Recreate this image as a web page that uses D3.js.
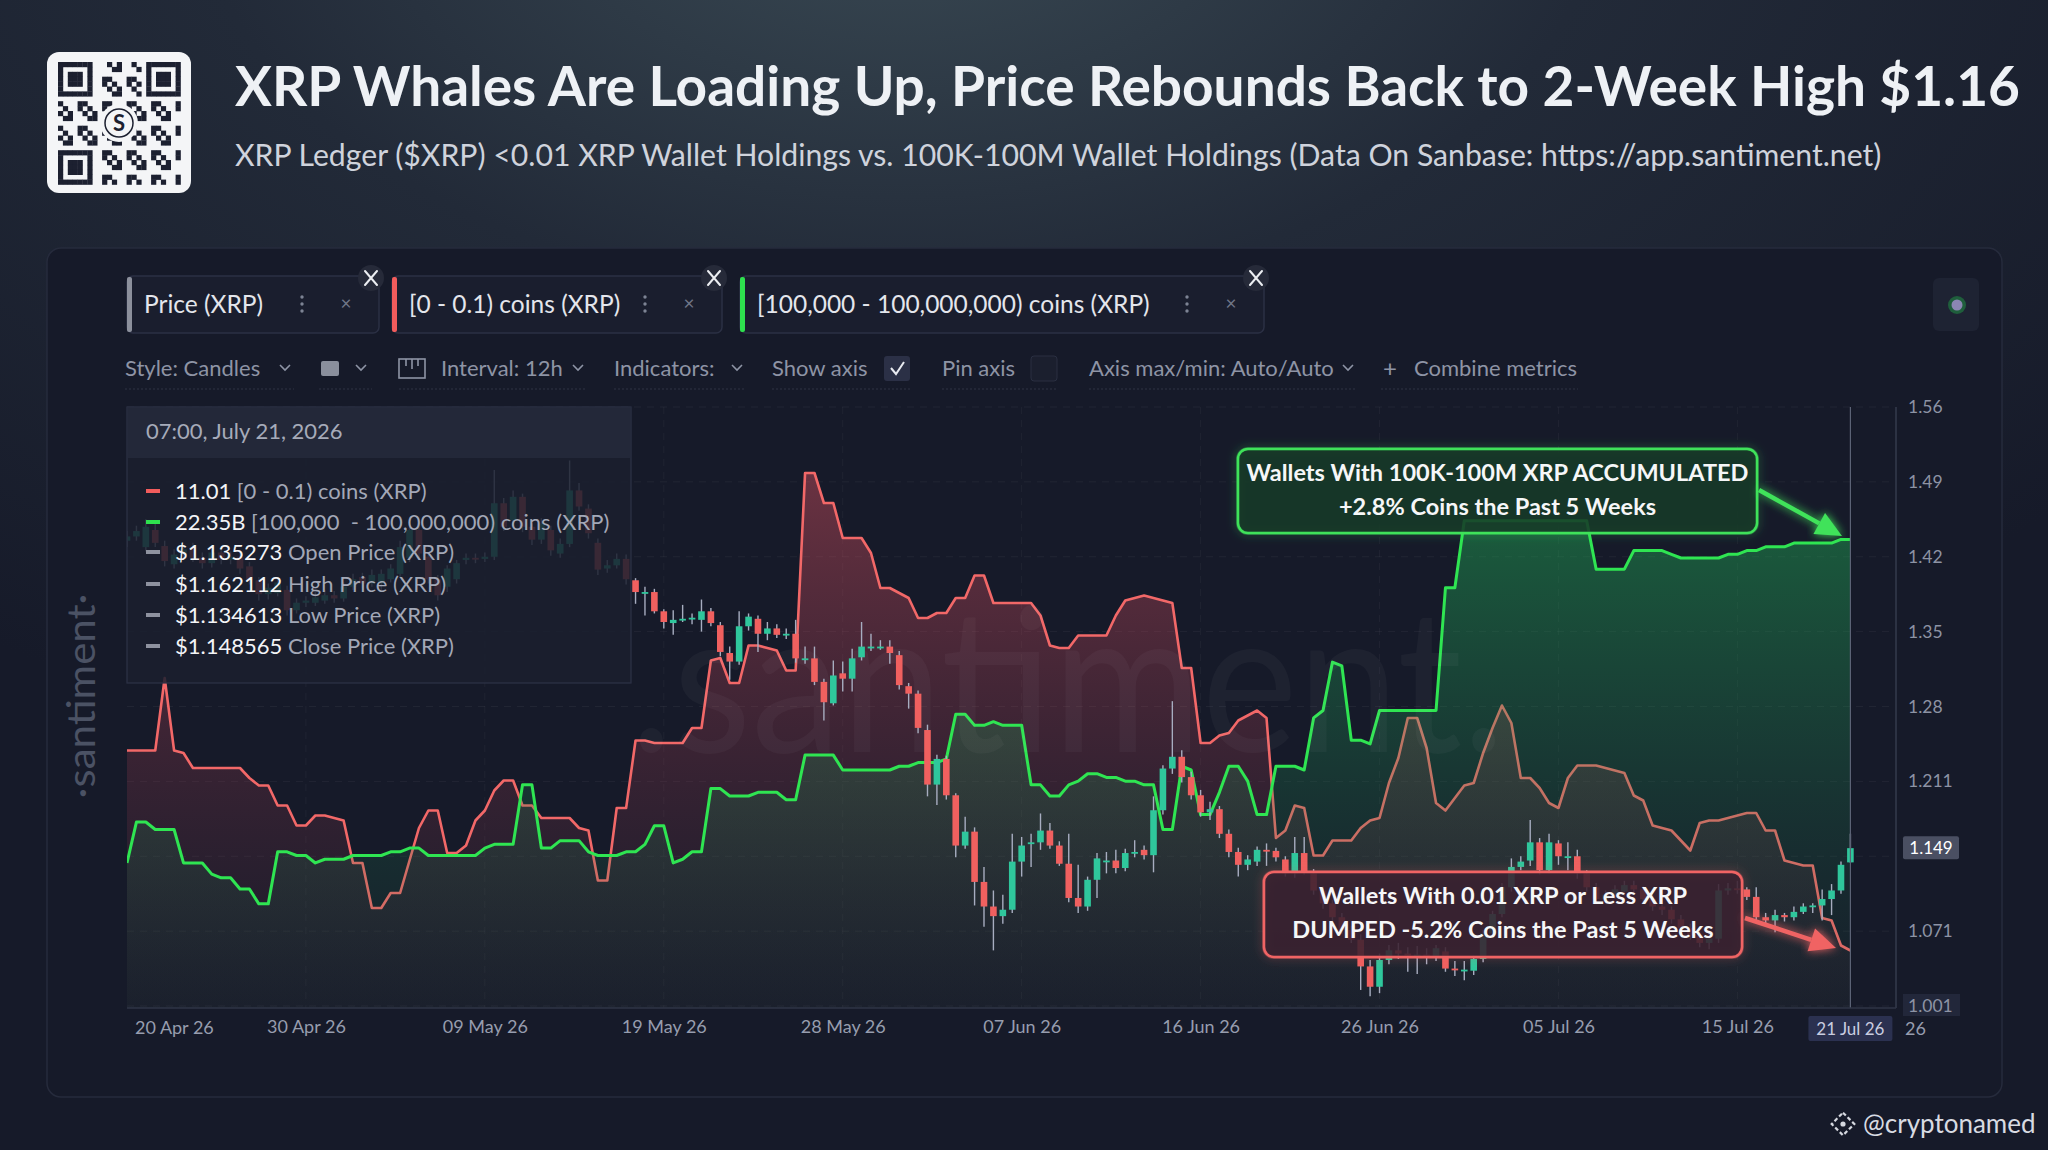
<!DOCTYPE html>
<html>
<head>
<meta charset="utf-8">
<script src="https://cdn.jsdelivr.net/npm/d3@7"></script>
<style>
  html, body { margin: 0; padding: 0; background: #161a29; }
  svg { display: block; }
  text { font-family: Lato, "Open Sans", sans-serif; }
</style>
</head>
<body>
<script>
// ---- data (12h candles, first one 20 Apr 2026 19:00) ----
const firstCandle = "2026-04-20T19:00";

// [open, high, low, close] Price (XRP)
const priceOHLC = [
  [1.436,1.445,1.430,1.440],[1.440,1.450,1.436,1.445],[1.430,1.456,1.426,1.449],[1.446,1.452,1.430,1.434],[1.431,1.436,1.412,1.417],[1.414,1.428,1.410,1.423],[1.423,1.432,1.418,1.428],[1.430,1.434,1.416,1.420],[1.420,1.425,1.410,1.415],[1.415,1.430,1.411,1.425],
  [1.425,1.429,1.414,1.418],[1.418,1.426,1.414,1.421],[1.421,1.425,1.405,1.410],[1.412,1.416,1.395,1.399],[1.399,1.402,1.380,1.386],[1.386,1.396,1.381,1.392],[1.387,1.402,1.384,1.397],[1.390,1.394,1.366,1.371],[1.371,1.382,1.368,1.378],[1.378,1.384,1.374,1.380],
  [1.378,1.388,1.375,1.383],[1.380,1.390,1.377,1.385],[1.385,1.389,1.378,1.382],[1.382,1.397,1.379,1.393],[1.393,1.405,1.390,1.400],[1.402,1.406,1.392,1.396],[1.396,1.409,1.393,1.404],[1.396,1.409,1.390,1.405],[1.400,1.414,1.397,1.410],[1.405,1.436,1.402,1.430],
  [1.420,1.452,1.416,1.446],[1.446,1.450,1.420,1.424],[1.421,1.425,1.396,1.400],[1.400,1.404,1.380,1.385],[1.393,1.413,1.388,1.410],[1.400,1.418,1.396,1.415],[1.418,1.424,1.414,1.420],[1.420,1.424,1.415,1.419],[1.419,1.425,1.416,1.421],[1.421,1.502,1.418,1.471],
  [1.471,1.476,1.445,1.449],[1.455,1.483,1.450,1.477],[1.477,1.480,1.444,1.449],[1.449,1.452,1.432,1.437],[1.437,1.457,1.433,1.452],[1.446,1.450,1.422,1.427],[1.424,1.438,1.420,1.433],[1.433,1.511,1.430,1.483],[1.483,1.490,1.464,1.468],[1.466,1.470,1.438,1.443],
  [1.434,1.438,1.404,1.409],[1.410,1.418,1.406,1.413],[1.413,1.424,1.410,1.419],[1.419,1.423,1.395,1.400],[1.399,1.401,1.377,1.388],[1.388,1.393,1.366,1.388],[1.388,1.391,1.368,1.370],[1.370,1.372,1.354,1.360],[1.359,1.371,1.348,1.362],[1.363,1.376,1.360,1.363],
  [1.363,1.368,1.358,1.364],[1.362,1.381,1.351,1.370],[1.370,1.373,1.356,1.359],[1.357,1.360,1.328,1.332],[1.331,1.337,1.306,1.323],[1.323,1.370,1.320,1.356],[1.356,1.368,1.352,1.365],[1.363,1.366,1.332,1.349],[1.349,1.360,1.343,1.354],[1.354,1.358,1.345,1.348],
  [1.349,1.354,1.344,1.349],[1.349,1.362,1.322,1.326],[1.326,1.337,1.321,1.326],[1.326,1.337,1.301,1.304],[1.304,1.307,1.268,1.285],[1.284,1.324,1.282,1.310],[1.312,1.323,1.295,1.307],[1.307,1.335,1.295,1.326],[1.327,1.360,1.324,1.337],[1.337,1.349,1.333,1.337],
  [1.337,1.343,1.334,1.337],[1.337,1.343,1.321,1.331],[1.329,1.333,1.297,1.301],[1.300,1.303,1.279,1.293],[1.293,1.296,1.256,1.261],[1.259,1.264,1.197,1.208],[1.208,1.236,1.189,1.232],[1.232,1.235,1.194,1.198],[1.198,1.200,1.140,1.151],[1.151,1.178,1.148,1.164],
  [1.164,1.168,1.095,1.117],[1.117,1.131,1.075,1.094],[1.094,1.109,1.053,1.085],[1.085,1.105,1.078,1.091],[1.091,1.162,1.088,1.136],[1.136,1.159,1.122,1.151],[1.153,1.162,1.131,1.154],[1.154,1.181,1.147,1.165],[1.165,1.172,1.148,1.151],[1.151,1.155,1.132,1.134],
  [1.134,1.162,1.098,1.102],[1.102,1.133,1.088,1.094],[1.094,1.122,1.090,1.119],[1.119,1.144,1.102,1.139],[1.137,1.145,1.125,1.137],[1.137,1.147,1.125,1.130],[1.130,1.148,1.127,1.144],[1.145,1.156,1.140,1.145],[1.147,1.151,1.138,1.142],[1.142,1.197,1.126,1.184],
  [1.184,1.226,1.180,1.223],[1.223,1.286,1.218,1.234],[1.234,1.240,1.210,1.215],[1.215,1.220,1.194,1.198],[1.198,1.203,1.178,1.182],[1.182,1.192,1.175,1.185],[1.185,1.188,1.158,1.162],[1.162,1.166,1.140,1.145],[1.145,1.149,1.122,1.133],[1.133,1.142,1.128,1.138],
  [1.136,1.150,1.132,1.147],[1.147,1.153,1.132,1.146],[1.146,1.149,1.136,1.140],[1.138,1.141,1.122,1.125],[1.125,1.159,1.121,1.144],[1.144,1.159,1.124,1.127],[1.125,1.129,1.105,1.109],[1.109,1.113,1.092,1.097],[1.097,1.100,1.080,1.084],[1.084,1.088,1.068,1.072],
  [1.072,1.076,1.060,1.063],[1.063,1.068,1.016,1.038],[1.038,1.044,1.010,1.019],[1.019,1.050,1.013,1.044],[1.044,1.058,1.040,1.053],[1.053,1.060,1.045,1.050],[1.050,1.056,1.033,1.048],[1.048,1.057,1.031,1.049],[1.049,1.055,1.040,1.047],[1.047,1.058,1.043,1.055],
  [1.052,1.056,1.033,1.036],[1.036,1.043,1.029,1.035],[1.035,1.043,1.025,1.035],[1.034,1.048,1.030,1.045],[1.045,1.072,1.042,1.069],[1.069,1.090,1.066,1.087],[1.087,1.116,1.084,1.112],[1.112,1.139,1.108,1.131],[1.131,1.141,1.128,1.136],[1.137,1.175,1.132,1.154],
  [1.154,1.158,1.124,1.128],[1.128,1.162,1.125,1.154],[1.153,1.156,1.133,1.141],[1.140,1.154,1.128,1.141],[1.141,1.147,1.120,1.125],[1.125,1.128,1.108,1.112],[1.112,1.116,1.098,1.101],[1.101,1.109,1.097,1.105],[1.105,1.114,1.101,1.110],[1.108,1.118,1.104,1.114],
  [1.114,1.118,1.106,1.110],[1.110,1.113,1.098,1.101],[1.101,1.105,1.090,1.094],[1.094,1.099,1.086,1.091],[1.091,1.094,1.078,1.082],[1.082,1.086,1.070,1.074],[1.074,1.078,1.063,1.067],[1.067,1.071,1.056,1.060],[1.060,1.072,1.054,1.064],[1.064,1.115,1.060,1.109],
  [1.109,1.116,1.105,1.111],[1.111,1.118,1.106,1.110],[1.110,1.112,1.100,1.103],[1.103,1.112,1.080,1.084],[1.084,1.088,1.078,1.081],[1.081,1.091,1.070,1.086],[1.086,1.088,1.080,1.084],[1.084,1.094,1.081,1.089],[1.089,1.097,1.087,1.094],[1.094,1.097,1.088,1.095],
  [1.095,1.110,1.081,1.101],[1.101,1.115,1.086,1.109],[1.109,1.136,1.106,1.133],[1.135273,1.162112,1.134613,1.148565]
];

// [0 - 0.1) coins (XRP)
const smallWallets = [
  11.81,11.81,11.81,11.81,12.10,11.81,11.80,11.74,11.74,11.74,
  11.74,11.74,11.74,11.70,11.67,11.67,11.59,11.59,11.51,11.51,
  11.55,11.55,11.54,11.53,11.36,11.36,11.18,11.18,11.24,11.24,
  11.37,11.50,11.57,11.57,11.40,11.40,11.43,11.53,11.57,11.65,
  11.69,11.69,11.59,11.59,11.54,11.54,11.54,11.54,11.50,11.49,
  11.29,11.29,11.58,11.58,11.85,11.85,11.84,11.84,11.84,11.84,
  11.90,11.90,12.17,12.18,12.08,12.08,12.23,12.23,12.22,12.21,
  12.13,12.13,12.92,12.92,12.80,12.80,12.66,12.66,12.66,12.60,
  12.46,12.46,12.44,12.42,12.34,12.34,12.36,12.36,12.42,12.42,
  12.51,12.51,12.40,12.40,12.40,12.40,12.40,12.35,12.23,12.22,
  12.22,12.27,12.27,12.27,12.27,12.35,12.41,12.42,12.43,12.42,
  12.41,12.40,12.14,12.14,11.84,11.84,11.87,11.88,11.93,11.95,
  11.97,11.94,11.46,11.49,11.59,11.58,11.39,11.39,11.45,11.45,
  11.45,11.50,11.53,11.54,11.68,11.78,11.94,11.94,11.82,11.60,
  11.57,11.62,11.67,11.68,11.80,11.90,11.99,11.92,11.70,11.70,
  11.66,11.60,11.58,11.70,11.75,11.75,11.75,11.74,11.73,11.72,
  11.63,11.61,11.51,11.50,11.49,11.45,11.41,11.52,11.53,11.53,
  11.54,11.55,11.56,11.56,11.49,11.49,11.37,11.36,11.35,11.35,
  11.14,11.13,11.03,11.01
];

// [100,000 - 100,000,000) coins (XRP), billions
const whaleWallets = [
  21.48,21.59,21.59,21.57,21.57,21.57,21.48,21.48,21.48,21.45,
  21.44,21.44,21.41,21.41,21.37,21.37,21.51,21.51,21.50,21.50,
  21.48,21.49,21.49,21.49,21.50,21.50,21.50,21.50,21.51,21.51,
  21.52,21.52,21.50,21.50,21.50,21.50,21.50,21.50,21.52,21.53,
  21.53,21.53,21.69,21.69,21.52,21.52,21.54,21.54,21.54,21.51,
  21.50,21.50,21.50,21.51,21.51,21.53,21.58,21.58,21.48,21.49,
  21.51,21.51,21.68,21.68,21.66,21.66,21.66,21.67,21.67,21.67,
  21.65,21.65,21.77,21.77,21.77,21.77,21.73,21.73,21.73,21.73,
  21.73,21.73,21.74,21.74,21.75,21.75,21.75,21.76,21.88,21.88,
  21.85,21.85,21.86,21.85,21.85,21.85,21.69,21.69,21.66,21.66,
  21.69,21.70,21.72,21.72,21.71,21.71,21.70,21.70,21.69,21.69,
  21.57,21.57,21.74,21.73,21.61,21.61,21.67,21.74,21.74,21.70,
  21.61,21.61,21.74,21.74,21.74,21.73,21.87,21.89,22.02,22.01,
  21.81,21.81,21.80,21.89,21.89,21.89,21.89,21.89,21.89,21.89,
  22.22,22.22,22.40,22.40,22.40,22.40,22.40,22.40,22.40,22.40,
  22.40,22.40,22.40,22.40,22.40,22.40,22.27,22.27,22.27,22.27,
  22.32,22.32,22.32,22.32,22.31,22.30,22.30,22.30,22.30,22.30,
  22.31,22.31,22.32,22.32,22.33,22.33,22.33,22.34,22.34,22.34,
  22.34,22.34,22.35,22.35
];

const xTickDates = ["2026-04-30T07:00","2026-05-09T19:00","2026-05-19T07:00","2026-05-28T19:00",
  "2026-06-07T07:00","2026-06-16T19:00","2026-06-26T07:00","2026-07-05T19:00","2026-07-15T07:00"];
const yGridValues = [1.001, 1.071, 1.141, 1.211, 1.281, 1.351, 1.421, 1.491, 1.561];
// the 1.141 label sits under the live price tag, so it is not printed
const yTickValues = [1.001, 1.071, 1.211, 1.281, 1.351, 1.421, 1.491, 1.561];
const yTickLabels = ["1.001", "1.071", "1.211", "1.28", "1.35", "1.42", "1.49", "1.56"];

// ---- setup ----
const W = 2048, H = 1150;
const parseT = d3.timeParse("%Y-%m-%dT%H:%M");
const t0 = parseT(firstCandle);
const candles = priceOHLC.map((c, i) => ({
  t: d3.timeHour.offset(t0, 12 * i), o: c[0], h: c[1], l: c[2], c: c[3],
  small: smallWallets[i], whale: whaleWallets[i]
}));
const last = candles[candles.length - 1];

const plot = { left: 127, right: 1892, top: 407, bottom: 1008 };

const x = d3.scaleTime()
  .domain([t0, parseT("2026-07-23T12:00")])
  .range([plot.left, plot.right]);
const yPrice = d3.scaleLinear().domain([1.001, 1.561]).range([1006, 407]);
const ySmall = d3.scaleLinear().domain([10.78, 13.184]).range([plot.bottom, plot.top]);
const yWhale = d3.scaleLinear().domain([21.09, 22.706]).range([plot.bottom, plot.top]);

const svg = d3.select("body").append("svg").attr("width", W).attr("height", H);
const defs = svg.append("defs");

// fit a text to a target width by font size (keeps glyph shapes undistorted)
function fitText(sel, target) {
  const len = sel.node().getComputedTextLength();
  const fs = parseFloat(sel.attr("font-size"));
  if (len > 0) sel.attr("font-size", (fs * target / len).toFixed(2));
  return sel;
}

// background
const bgGrad = defs.append("radialGradient").attr("id", "bgGlow")
  .attr("gradientUnits", "userSpaceOnUse").attr("cx", 900).attr("cy", -120).attr("r", 1250)
  .attr("gradientTransform", "translate(900,-120) scale(1.25,0.75) translate(-900,120)");
bgGrad.append("stop").attr("offset", "0%").attr("stop-color", "#3a4a54");
bgGrad.append("stop").attr("offset", "45%").attr("stop-color", "#222a38");
bgGrad.append("stop").attr("offset", "100%").attr("stop-color", "#161a29");
svg.append("rect").attr("width", W).attr("height", H).attr("fill", "#161a29");
svg.append("rect").attr("width", W).attr("height", H).attr("fill", "url(#bgGlow)");

// QR code block
const qr = svg.append("g").attr("transform", "translate(47,52)");
qr.append("rect").attr("width", 144).attr("height", 141).attr("rx", 12).attr("fill", "#f4f5f7");
const qrN = 25, qrCell = 4.9, qrOff = 11;
const finder = (r, c) => (r < 7 && c < 7) || (r < 7 && c >= qrN - 7) || (r >= qrN - 7 && c < 7);
for (let r = 0; r < qrN; r++) {
  for (let c = 0; c < qrN; c++) {
    let on;
    if (finder(r, c)) {
      const rr = r >= qrN - 7 ? r - (qrN - 7) : r;
      const cc = c >= qrN - 7 ? c - (qrN - 7) : c;
      on = rr === 0 || rr === 6 || cc === 0 || cc === 6 || (rr >= 2 && rr <= 4 && cc >= 2 && cc <= 4);
    } else if ((r === 7 && c < 8) || (c === 7 && r < 8) || (r === 7 && c >= qrN - 8) || (c === qrN - 8 && r < 8) || (r === qrN - 8 && c < 8) || (c === 7 && r >= qrN - 8)) {
      on = false;
    } else {
      on = ((r * 7 + c * 13 + r * c) % 5) < 2;
    }
    if (on) qr.append("rect").attr("x", qrOff + c * qrCell).attr("y", qrOff - 1 + r * qrCell)
      .attr("width", qrCell + 0.3).attr("height", qrCell + 0.3).attr("fill", "#1c2030");
  }
}
qr.append("circle").attr("cx", 72).attr("cy", 71).attr("r", 19).attr("fill", "#f4f5f7");
qr.append("circle").attr("cx", 72).attr("cy", 71).attr("r", 14).attr("fill", "none").attr("stroke", "#1c2030").attr("stroke-width", 1.5);
qr.append("text").attr("x", 72).attr("y", 79).attr("text-anchor", "middle")
  .attr("font-size", 22).attr("font-weight", 700).attr("fill", "#1c2030").text("S");

// title + subtitle
fitText(svg.append("text").attr("x", 235).attr("y", 106)
  .attr("font-size", 56).attr("font-weight", 700).attr("fill", "#eef1f5")
  .text("XRP Whales Are Loading Up, Price Rebounds Back to 2-Week High $1.16"), 1785);
fitText(svg.append("text").attr("x", 235).attr("y", 166)
  .attr("font-size", 30).attr("font-weight", 400).attr("fill", "#cfd3dc")
  .text("XRP Ledger ($XRP) <0.01 XRP Wallet Holdings vs. 100K-100M Wallet Holdings (Data On Sanbase: https://app.santiment.net)"), 1647);

// panel
svg.append("rect").attr("x", 47).attr("y", 248).attr("width", 1955).attr("height", 849).attr("rx", 14)
  .attr("fill", "#161a29").attr("stroke", "#262b3c").attr("stroke-width", 1.5);

// metric tabs
const tabs = [
  { x: 127, w: 252, color: "#8c909c", label: "Price (XRP)" },
  { x: 392, w: 330, color: "#f25c5c", label: "[0 - 0.1) coins (XRP)" },
  { x: 740, w: 524, color: "#2ee04e", label: "[100,000 - 100,000,000) coins (XRP)" }
];
tabs.forEach(tb => {
  const g = svg.append("g").attr("transform", `translate(${tb.x},276)`);
  g.append("rect").attr("width", tb.w).attr("height", 57).attr("rx", 6)
    .attr("fill", "#1a1e2e").attr("stroke", "#2b3044").attr("stroke-width", 1.5);
  g.append("rect").attr("x", 0).attr("y", 1).attr("width", 5).attr("height", 55).attr("rx", 2).attr("fill", tb.color);
  g.append("text").attr("x", 17).attr("y", 37).attr("font-size", 24.5).attr("fill", "#e4e6ec").text(tb.label);
  [-7, 0, 7].forEach(dy => g.append("circle").attr("cx", tb.w - 77).attr("cy", 28 + dy).attr("r", 1.7).attr("fill", "#7d8394"));
  g.append("text").attr("x", tb.w - 33).attr("y", 34).attr("text-anchor", "middle")
    .attr("font-size", 19).attr("fill", "#6f7587").text("×");
  const cx = tb.w - 8, cy = 2;
  g.append("circle").attr("cx", cx).attr("cy", cy).attr("r", 13).attr("fill", "#262a39");
  g.append("path").attr("d", `M${cx - 6},${cy - 7}L${cx + 6},${cy + 7}M${cx + 6},${cy - 7}L${cx - 6},${cy + 7}`)
    .attr("stroke", "#eceef2").attr("stroke-width", 2).attr("stroke-linecap", "round");
});
// settings button top right
svg.append("rect").attr("x", 1933).attr("y", 278).attr("width", 46).attr("height", 53).attr("rx", 6).attr("fill", "#1e2333");
svg.append("circle").attr("cx", 1957).attr("cy", 305).attr("r", 9).attr("fill", "#1f5e3c");
svg.append("circle").attr("cx", 1957).attr("cy", 305).attr("r", 5.5).attr("fill", "#8b86b3");

// toolbar
const tb = svg.append("g").attr("font-size", 22).attr("fill", "#8e94a5");
const chevron = (cx) => tb.append("path").attr("d", `M${cx - 5},365L${cx},370L${cx + 5},365`)
  .attr("fill", "none").attr("stroke", "#8e94a5").attr("stroke-width", 1.6);
const underline = (x1, x2) => tb.append("line").attr("x1", x1).attr("x2", x2).attr("y1", 389).attr("y2", 389)
  .attr("stroke", "#2e3345").attr("stroke-width", 1).attr("stroke-dasharray", "2 2");
tb.append("text").attr("x", 125).attr("y", 376).text("Style: Candles"); chevron(285); underline(125, 294);
tb.append("rect").attr("x", 321).attr("y", 361).attr("width", 18).attr("height", 15).attr("rx", 2).attr("fill", "#8a8f9c");
chevron(361); underline(319, 372);
tb.append("rect").attr("x", 399).attr("y", 359).attr("width", 26).attr("height", 19).attr("fill", "none").attr("stroke", "#8e94a5").attr("stroke-width", 1.6);
tb.append("path").attr("d", "M406,359V366M412,359V369M418,359V366").attr("stroke", "#8e94a5").attr("stroke-width", 1.6);
tb.append("text").attr("x", 441).attr("y", 376).text("Interval: 12h"); chevron(578); underline(399, 587);
tb.append("text").attr("x", 614).attr("y", 376).text("Indicators:"); chevron(737); underline(614, 746);
tb.append("text").attr("x", 772).attr("y", 376).text("Show axis");
tb.append("rect").attr("x", 884).attr("y", 356).attr("width", 26).attr("height", 25).attr("rx", 3).attr("fill", "#2b3046");
tb.append("path").attr("d", "M891,368L896,374L904,362").attr("fill", "none").attr("stroke", "#e8eaf0").attr("stroke-width", 2);
underline(772, 910);
tb.append("text").attr("x", 942).attr("y", 376).text("Pin axis");
tb.append("rect").attr("x", 1031).attr("y", 356).attr("width", 26).attr("height", 25).attr("rx", 3).attr("fill", "#1b1f2e").attr("stroke", "#2a2f41");
underline(942, 1057);
tb.append("text").attr("x", 1089).attr("y", 376).text("Axis max/min: Auto/Auto"); chevron(1348); underline(1089, 1357);
tb.append("text").attr("x", 1383).attr("y", 377).attr("font-size", 24).text("+");
tb.append("text").attr("x", 1414).attr("y", 376).text("Combine metrics"); underline(1381, 1578);

// ---- chart ----
defs.append("clipPath").attr("id", "plotClip").append("rect")
  .attr("x", plot.left).attr("y", plot.top - 5).attr("width", plot.right - plot.left).attr("height", plot.bottom - plot.top + 5);

const chart = svg.append("g");

// grid
chart.append("g").selectAll("line").data(yGridValues).join("line")
  .attr("x1", plot.left).attr("x2", plot.right)
  .attr("y1", d => yPrice(d)).attr("y2", d => yPrice(d))
  .attr("stroke", "#ffffff").attr("stroke-opacity", 0.05).attr("stroke-dasharray", "7 6");
chart.append("g").selectAll("line").data(xTickDates.map(parseT)).join("line")
  .attr("x1", d => x(d)).attr("x2", d => x(d)).attr("y1", plot.top).attr("y2", plot.bottom)
  .attr("stroke", "#ffffff").attr("stroke-opacity", 0.045).attr("stroke-dasharray", "7 6");

// area gradients
const gRed = defs.append("linearGradient").attr("id", "redFill").attr("gradientUnits", "userSpaceOnUse")
  .attr("x1", 0).attr("x2", 0).attr("y1", plot.top).attr("y2", plot.bottom);
gRed.append("stop").attr("offset", "0%").attr("stop-color", "#f05a68").attr("stop-opacity", 0.45);
gRed.append("stop").attr("offset", "55%").attr("stop-color", "#c2465a").attr("stop-opacity", 0.22);
gRed.append("stop").attr("offset", "100%").attr("stop-color", "#8a3a50").attr("stop-opacity", 0.04);
const gGreen = defs.append("linearGradient").attr("id", "greenFill").attr("gradientUnits", "userSpaceOnUse")
  .attr("x1", 0).attr("x2", 0).attr("y1", plot.top).attr("y2", plot.bottom);
gGreen.append("stop").attr("offset", "0%").attr("stop-color", "#22c85a").attr("stop-opacity", 0.5);
gGreen.append("stop").attr("offset", "55%").attr("stop-color", "#1f9a55").attr("stop-opacity", 0.26);
gGreen.append("stop").attr("offset", "100%").attr("stop-color", "#1a6a4a").attr("stop-opacity", 0.06);

const series = chart.append("g").attr("clip-path", "url(#plotClip)");

const redArea = d3.area().x(d => x(d.t)).y0(plot.bottom).y1(d => ySmall(d.small));
const redLine = d3.line().x(d => x(d.t)).y(d => ySmall(d.small));
const greenArea = d3.area().x(d => x(d.t)).y0(plot.bottom).y1(d => yWhale(d.whale));
const greenLine = d3.line().x(d => x(d.t)).y(d => yWhale(d.whale));

series.append("path").datum(candles).attr("d", redArea).attr("fill", "url(#redFill)");
series.append("path").datum(candles).attr("d", redLine).attr("fill", "none")
  .attr("stroke", "#f26868").attr("stroke-width", 2.6).attr("stroke-linejoin", "round");
series.append("path").datum(candles).attr("d", greenArea).attr("fill", "url(#greenFill)");
series.append("path").datum(candles).attr("d", greenLine).attr("fill", "none")
  .attr("stroke", "#2fe552").attr("stroke-width", 3).attr("stroke-linejoin", "round");

// watermark
series.append("text").attr("x", 630).attr("y", 752)
  .attr("font-size", 200).attr("font-weight", 400).attr("fill", "#ffffff").attr("fill-opacity", 0.035)
  .attr("textLength", 875).attr("lengthAdjust", "spacingAndGlyphs").text(".santiment.");

// candles
const bodyW = 6.6;
const cg = series.append("g").selectAll("g").data(candles).join("g");
cg.append("line")
  .attr("x1", d => x(d.t)).attr("x2", d => x(d.t))
  .attr("y1", d => yPrice(d.h)).attr("y2", d => yPrice(d.l))
  .attr("stroke", "#a7adc0").attr("stroke-width", 1.4);
cg.append("rect")
  .attr("x", d => x(d.t) - bodyW / 2).attr("width", bodyW)
  .attr("y", d => yPrice(Math.max(d.o, d.c)))
  .attr("height", d => Math.max(1.8, Math.abs(yPrice(d.o) - yPrice(d.c))))
  .attr("fill", d => d.c >= d.o ? "#2fc79c" : "#f0605f");

// crosshair at last candle
chart.append("line").attr("x1", x(last.t)).attr("x2", x(last.t)).attr("y1", plot.top).attr("y2", plot.bottom)
  .attr("stroke", "#5b6275").attr("stroke-width", 1.2);

// right price axis
chart.append("line").attr("x1", 1896).attr("x2", 1896).attr("y1", plot.top).attr("y2", plot.bottom)
  .attr("stroke", "#3a4052").attr("stroke-width", 1.3);
chart.append("line").attr("x1", plot.left).attr("x2", 1896).attr("y1", plot.bottom).attr("y2", plot.bottom)
  .attr("stroke", "#2f3446").attr("stroke-width", 1.3);
const yAxis = d3.axisRight(yPrice).tickValues(yTickValues)
  .tickFormat((d, i) => yTickLabels[i]).tickSize(0).tickPadding(12);
const yAxisG = chart.append("g").attr("transform", "translate(1896,0)").call(yAxis);
yAxisG.select(".domain").remove();
yAxisG.selectAll("text").attr("font-family", "Lato, sans-serif").attr("font-size", 17.5).attr("fill", "#8d93a4");
// bottom value box
yAxisG.insert("rect", ":first-child").attr("x", 7).attr("y", yPrice(1.001) - 12).attr("width", 57).attr("height", 22)
  .attr("fill", "#22273a");
// current price tag
const tag = chart.append("g").attr("transform", `translate(1903,${yPrice(last.c)})`);
tag.append("rect").attr("x", 0).attr("y", -12).attr("width", 56).attr("height", 23).attr("rx", 2).attr("fill", "#4a4f62");
tag.append("text").attr("x", 28).attr("y", 6).attr("text-anchor", "middle")
  .attr("font-size", 17).attr("fill", "#ffffff").text(d3.format(".3f")(last.c));

// bottom time axis
const xAxis = d3.axisBottom(x).tickValues(xTickDates.map(parseT))
  .tickFormat(d3.timeFormat("%d %b %y")).tickSize(0).tickPadding(12);
const xAxisG = chart.append("g").attr("transform", `translate(0,${plot.bottom})`).call(xAxis);
xAxisG.select(".domain").remove();
xAxisG.selectAll("text").attr("font-family", "Lato, sans-serif").attr("font-size", 18).attr("fill", "#979dae");
chart.append("text").attr("x", 135).attr("y", 1034).attr("font-size", 18).attr("fill", "#979dae")
  .text(d3.timeFormat("%d %b %y")(t0));
chart.append("rect").attr("x", x(last.t) - 42).attr("y", 1016).attr("width", 84).attr("height", 25).attr("rx", 2).attr("fill", "#2b3150");
chart.append("text").attr("x", x(last.t)).attr("y", 1035).attr("text-anchor", "middle")
  .attr("font-size", 17).attr("fill", "#c9cde0").text(d3.timeFormat("%d %b %y")(last.t));
chart.append("text").attr("x", 1905).attr("y", 1035).attr("font-size", 18).attr("fill", "#979dae").text("26");

// vertical brand label
svg.append("text").attr("transform", "translate(95,696) rotate(-90)").attr("text-anchor", "middle")
  .attr("font-size", 38).attr("fill", "#4b5264").attr("textLength", 205).attr("lengthAdjust", "spacingAndGlyphs")
  .text("·santiment·");

// tooltip
const tip = svg.append("g").attr("transform", "translate(127,407)");
tip.append("rect").attr("width", 504).attr("height", 276).attr("fill", "#1b1f2f").attr("fill-opacity", 0.86)
  .attr("stroke", "#2d3246").attr("stroke-width", 1.2);
tip.append("rect").attr("width", 504).attr("height", 51).attr("fill", "#262a3c").attr("fill-opacity", 0.8);
tip.append("text").attr("x", 19).attr("y", 32).attr("font-size", 22).attr("fill", "#a6abb9")
  .text(d3.timeFormat("%H:%M, %B %-d, %Y")(last.t));
const f6 = d3.format(".6f");
const tipRows = [
  { color: "#f25c5c", value: d3.format(".2f")(last.small), label: " [0 - 0.1) coins (XRP)" },
  { color: "#2ee04e", value: d3.format(".2f")(last.whale) + "B", label: " [100,000  - 100,000,000) coins (XRP)" },
  { color: "#8e929f", value: "$" + f6(last.o), label: " Open Price (XRP)" },
  { color: "#8e929f", value: "$" + f6(last.h), label: " High Price (XRP)" },
  { color: "#8e929f", value: "$" + f6(last.l), label: " Low Price (XRP)" },
  { color: "#8e929f", value: "$" + f6(last.c), label: " Close Price (XRP)" }
];
const rowY = [84, 115, 145, 177, 208, 239];
tipRows.forEach((r, i) => {
  tip.append("rect").attr("x", 19).attr("y", rowY[i] - 2).attr("width", 14).attr("height", 4).attr("fill", r.color);
  const t = tip.append("text").attr("x", 48).attr("y", rowY[i] + 8).attr("font-size", 22).style("white-space", "pre");
  t.append("tspan").attr("fill", "#f3f4f7").text(r.value);
  t.append("tspan").attr("fill", "#a3a8b7").text(r.label);
});

// annotations
const glow = defs.append("filter").attr("id", "glow").attr("x", "-20%").attr("y", "-40%").attr("width", "140%").attr("height", "180%");
glow.append("feGaussianBlur").attr("in", "SourceGraphic").attr("stdDeviation", 5).attr("result", "b");
const gm = glow.append("feMerge");
gm.append("feMergeNode").attr("in", "b");
gm.append("feMergeNode").attr("in", "SourceGraphic");

const notes = [
  { x: 1238, y: 449, w: 519, h: 84, stroke: "#3fe25a", fill: "#173a28",
    lines: ["Wallets With 100K-100M XRP ACCUMULATED", "+2.8% Coins the Past 5 Weeks"],
    arrow: [1759, 490, 1842, 536] },
  { x: 1264, y: 872, w: 478, h: 85, stroke: "#f06464", fill: "#3a2130",
    lines: ["Wallets With 0.01 XRP or Less XRP", "DUMPED -5.2% Coins the Past 5 Weeks"],
    arrow: [1745, 918, 1836, 948] }
];
notes.forEach(n => {
  const g = svg.append("g");
  g.append("rect").attr("x", n.x).attr("y", n.y).attr("width", n.w).attr("height", n.h).attr("rx", 10)
    .attr("fill", "none").attr("stroke", n.stroke).attr("stroke-width", 4).attr("stroke-opacity", 0.35).attr("filter", "url(#glow)");
  g.append("rect").attr("x", n.x).attr("y", n.y).attr("width", n.w).attr("height", n.h).attr("rx", 10)
    .attr("fill", n.fill).attr("fill-opacity", 0.88).attr("stroke", n.stroke).attr("stroke-width", 2.5);
  n.lines.forEach((ln, i) => g.append("text").attr("x", n.x + n.w / 2).attr("y", n.y + 32 + i * 34)
    .attr("text-anchor", "middle").attr("font-size", 23.5).attr("font-weight", 700).attr("fill", "#f6f7f8").text(ln));
  const [x1, y1, x2, y2] = n.arrow;
  const ang = Math.atan2(y2 - y1, x2 - x1);
  const hl = 26, hw = 12;
  const bx = x2 - hl * Math.cos(ang), by = y2 - hl * Math.sin(ang);
  g.append("line").attr("x1", x1).attr("y1", y1).attr("x2", bx).attr("y2", by)
    .attr("stroke", n.stroke).attr("stroke-width", 4.5).attr("filter", "url(#glow)");
  g.append("path").attr("d", `M${x2},${y2}L${bx - hw * Math.sin(ang)},${by + hw * Math.cos(ang)}L${bx + hw * Math.sin(ang)},${by - hw * Math.cos(ang)}Z`)
    .attr("fill", n.stroke).attr("filter", "url(#glow)");
});

// signature
const sig = svg.append("g").attr("transform", "translate(1843,1124)");
sig.append("rect").attr("x", -8).attr("y", -8).attr("width", 16).attr("height", 16).attr("transform", "rotate(45)")
  .attr("fill", "none").attr("stroke", "#d5d8df").attr("stroke-width", 2.2).attr("stroke-dasharray", "4 2.5");
sig.append("circle").attr("r", 2.6).attr("fill", "#d5d8df");
svg.append("text").attr("x", 1863).attr("y", 1133).attr("font-size", 26).attr("fill", "#d8dbe2").text("@cryptonamed");
</script>
</body>
</html>
